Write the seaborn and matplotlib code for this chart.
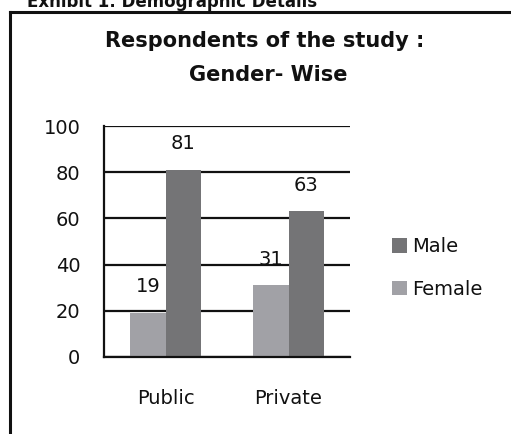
import pandas as pd
import matplotlib
matplotlib.use('Agg')
import seaborn as sns
from matplotlib import pyplot as plt
from matplotlib.lines import Line2D
from matplotlib.patches import Patch

# data
categories = ['Public', 'Private']
female = [19, 31]
male = [81, 63]
yticks = [0, 20, 40, 60, 80, 100]

color_male = '#747476'
color_female = '#a1a1a6'

pd_data = pd.DataFrame({
    'Sector': categories * 2,
    'Gender': ['Female'] * len(categories) + ['Male'] * len(categories),
    'Count': female + male,
})

sns.set_style("white")
plt.rcParams['font.family'] = ['DejaVu Sans']

W, H = 511, 434
fig = plt.figure(figsize=(W / 100, H / 100), dpi=100)
ax = fig.add_axes([104 / W, 1 - 357 / H, 246 / W, 231 / H])

sns.barplot(data=pd_data, x='Sector', y='Count', hue='Gender',
            hue_order=['Female', 'Male'], order=categories,
            palette={'Female': color_female, 'Male': color_male},
            width=0.57, saturation=1, linewidth=0, legend=False, ax=ax)

for container in ax.containers:
    ax.bar_label(container, padding=12, fontsize=14, color='#111111')

ax.set_ylim(0, 100)
ax.set_xlim(-0.5, 1.5)
ax.set_yticks(yticks)
ax.set_axisbelow(True)
ax.yaxis.grid(True, color='#111111', linewidth=1.6)
ax.xaxis.grid(False)
ax.set_xlabel('')
ax.set_ylabel('')
ax.tick_params(axis='y', length=0, pad=17, labelsize=14, labelcolor='#111111')
ax.tick_params(axis='x', length=0, pad=23, labelsize=14, labelcolor='#111111')
sns.despine(ax=ax, top=True, right=True)
for side in ['left', 'bottom']:
    ax.spines[side].set_color('#111111')
    ax.spines[side].set_linewidth(1.6)

# legend: Male above Female
handles = [Patch(facecolor=color_male, edgecolor='none', label='Male'),
           Patch(facecolor=color_female, edgecolor='none', label='Female')]
fig.legend(handles=handles, loc='center left', bbox_to_anchor=(392 / W, 1 - 268 / H),
           frameon=False, fontsize=14, handlelength=0.75, handleheight=0.75,
           handletextpad=0.3, labelspacing=1.2, borderpad=0, borderaxespad=0,
           labelcolor='#111111')

# title
fig.text(265 / W, 1 - 41 / H, 'Respondents of the study :', ha='center', va='center',
         fontsize=15, fontweight='bold', color='#111111')
fig.text(268 / W, 1 - 75 / H, 'Gender- Wise', ha='center', va='center',
         fontsize=15, fontweight='bold', color='#111111')

# header cut off by the crop of the page
fig.text(27 / W, 1 - 7 / H, 'Exhibit 1: Demographic Details', ha='left', va='baseline',
         fontsize=12, fontweight='bold', color='#111111')

# border box round the chart, open at the right and bottom
bx, by = 10 / W, 1 - 12 / H
fig.add_artist(Line2D([bx, bx], [-0.1, by], transform=fig.transFigure,
                      color='#111111', linewidth=2.2, solid_capstyle='projecting'))
fig.add_artist(Line2D([bx, 1.1], [by, by], transform=fig.transFigure,
                      color='#111111', linewidth=2.2, solid_capstyle='projecting'))

plt.savefig('out.png', dpi=100)
